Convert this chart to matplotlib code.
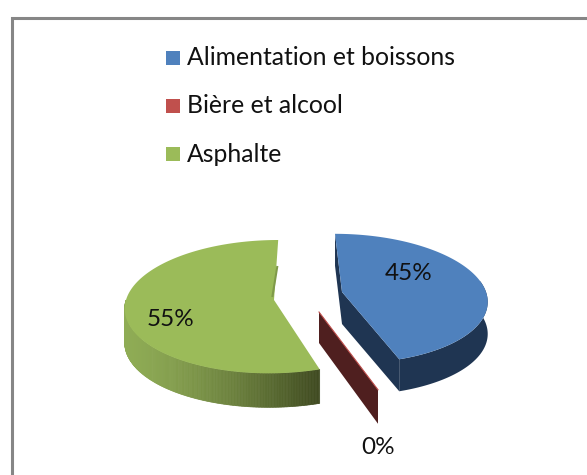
import numpy as np
import matplotlib
matplotlib.use('Agg')
import matplotlib.pyplot as plt
from matplotlib.patches import Rectangle

categories = ['Alimentation et boissons', 'Bière et alcool', 'Asphalte']
shares = [45, 0, 55]
top_colors = ['#4f81bd', '#c0504d', '#9bbb59']

# pie layout in pixels: centre x, centre y, radius x, radius y, shear
blue = (342, 292, 144, 64, 0.12)
red = (319, 312, 150, 74, 0.10)
green = (274, 300, 148, 66, -0.07)
depth = 32
persp = 0.1


def rim(t, shape):
    # point on the tilted disc, t in degrees clockwise from 12 o'clock
    cx, cy, rx, ry, shear = shape
    t = np.radians(t)
    s = 1 / (1 + persp * np.cos(t))
    dx = rx * np.sin(t) * s
    dy = -ry * np.cos(t) * s
    return cx + dx + shear * dy, cy + dy


def arc(t0, t1, shape):
    return rim(np.linspace(t0, t1, 200), shape)


edges = np.cumsum([0] + shares) * 3.6

fig = plt.figure(figsize=(5.87, 4.75), dpi=100)
ax = fig.add_axes([0, 0, 1, 1])
ax.set_xlim(0, 587)
ax.set_ylim(475, 0)
ax.axis('off')

# frame, only left and top are in the crop
ax.plot([11.5, 11.5, 587], [475, 17.5, 17.5], color='#868686', lw=2.2, solid_joinstyle='miter')

# green slice
x, y = arc(edges[2], edges[3], green)
wx, wy = arc(edges[2], 270, green)
left = np.array(matplotlib.colors.to_rgb('#8fac55'))
right = np.array(matplotlib.colors.to_rgb('#3f4a20'))
green_depth = depth + 2
for i in range(len(wx) - 1):
    f = (wx[i] - wx.min()) / (wx.max() - wx.min())
    ax.fill([wx[i], wx[i + 1], wx[i + 1], wx[i]],
            [wy[i], wy[i + 1], wy[i + 1] + green_depth, wy[i] + green_depth],
            color=left + (right - left) * f ** 1.4, lw=0.5)
ax.fill(np.r_[green[0], x], np.r_[green[1], y], color=top_colors[2], lw=0)
sx, sy = rim(edges[3], green)
ax.plot([green[0] - 1.5, sx - 1], [green[1] - 4, green[1] + (sy - green[1]) * 0.55],
        color='#7f9a49', lw=1.5)

# zero slice is only its wall
rx1, ry1 = rim(edges[1], red)
ax.fill([red[0], rx1, rx1, red[0]], [red[1], ry1, ry1 + depth + 2, red[1] + depth - 1],
        color='#4f1f1f', lw=0)
ax.plot([red[0], rx1], [red[1], ry1], color=top_colors[1], lw=0.8)

# blue slice
x, y = arc(edges[0], edges[1], blue)
wx, wy = arc(80, edges[1], blue)
ax.fill(np.r_[wx, wx[::-1]], np.r_[wy, wy[::-1] + depth], color='#1f3552', lw=0)
ex, ey = rim(edges[1], blue)
ax.fill([blue[0], ex, ex, blue[0]], [blue[1], ey, ey + depth, blue[1] + depth], color='#1f3552', lw=0)
bx, by = rim(edges[0], blue)
ax.fill([bx, blue[0], blue[0], bx], [by, blue[1], blue[1] + depth, by + depth], color='#1f3552', lw=0)
ax.fill(np.r_[blue[0], x], np.r_[blue[1], y], color=top_colors[0], lw=0)

# labels
font = 'Lato'
label_pos = [(409, 274), (378, 447), (171, 320)]
for share, pos in zip(shares, label_pos):
    ax.text(pos[0], pos[1], '%d%%' % share, ha='center', va='center', family=font,
            fontsize=17.5, color='#111111')

# legend
legend_y = [57.5, 105.5, 154]
for name, col, ly in zip(categories, top_colors, legend_y):
    ax.add_patch(Rectangle((166, ly - 7), 14, 14, facecolor=col, edgecolor='none'))
    ax.text(187, ly, name, ha='left', va='center', family=font, fontsize=17.8, color='#111111')

fig.savefig('out.png', dpi=100)
